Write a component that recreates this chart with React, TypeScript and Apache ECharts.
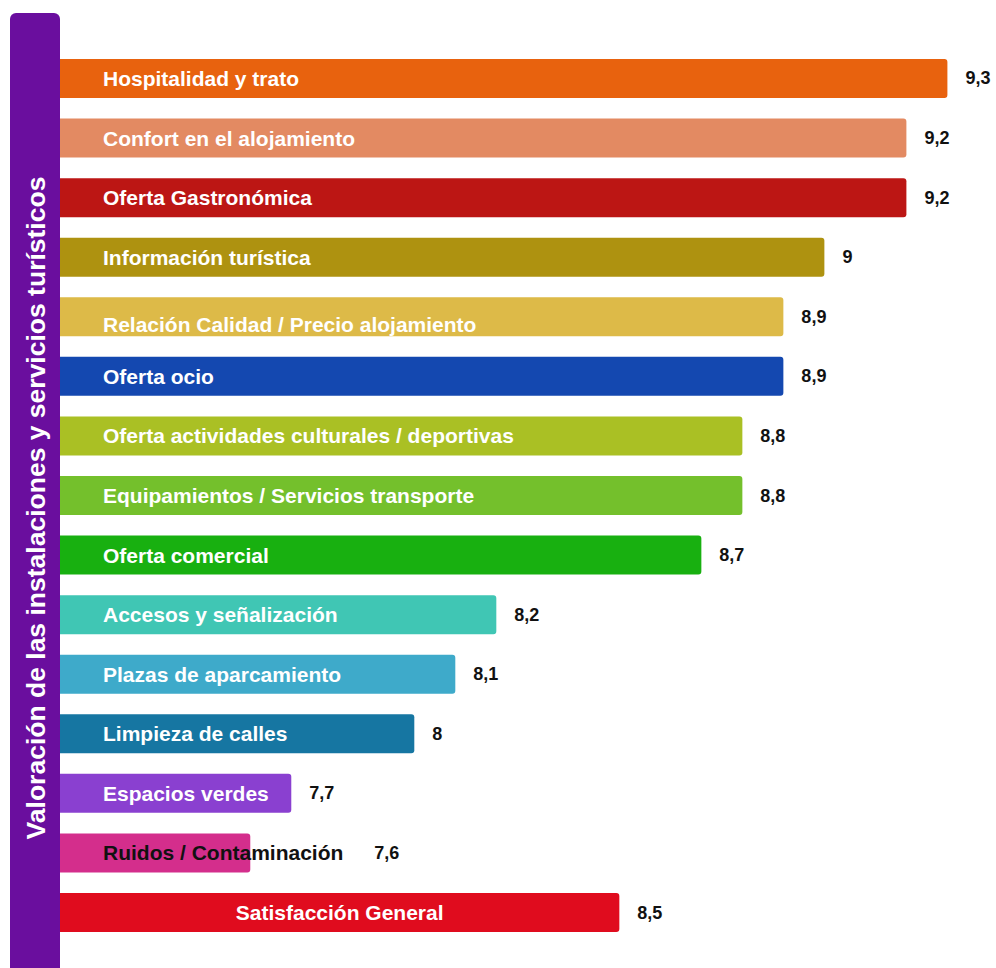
import React, { useEffect, useRef } from "react";
import * as echarts from "echarts";

const categories = [
  "Hospitalidad y trato",
  "Confort en el alojamiento",
  "Oferta Gastronómica",
  "Información turística",
  "Relación Calidad / Precio alojamiento",
  "Oferta ocio",
  "Oferta actividades culturales / deportivas",
  "Equipamientos / Servicios transporte",
  "Oferta comercial",
  "Accesos y señalización",
  "Plazas de aparcamiento",
  "Limpieza de calles",
  "Espacios verdes",
  "Ruidos / Contaminación",
  "Satisfacción General",
];

const values = [9.3, 9.2, 9.2, 9, 8.9, 8.9, 8.8, 8.8, 8.7, 8.2, 8.1, 8, 7.7, 7.6, 8.5];

const barColors = [
  "#E8620E",
  "#E38A62",
  "#BC1614",
  "#AE9210",
  "#DDBA48",
  "#1448B0",
  "#AAC024",
  "#74C02C",
  "#18B010",
  "#40C6B4",
  "#3EAACA",
  "#1676A2",
  "#8A40D0",
  "#D42E8C",
  "#E00C1E",
];

const titleText = "Valoración de las instalaciones y servicios turísticos";

const FONT = "'Liberation Sans', Arial, sans-serif";

export default function App() {
  const ref = useRef<HTMLDivElement>(null);

  useEffect(() => {
    if (!ref.current) return;
    const chart = echarts.init(ref.current, undefined, { renderer: "svg" });

    const nameData = values.map((v, i) => {
      const item: any = { value: v, itemStyle: { color: barColors[i] } };
      const name = categories[i];
      if (name === "Satisfacción General") {
        item.label = { position: "inside" };
      } else if (name === "Ruidos / Contaminación") {
        item.label = { color: "#111" };
      } else if (name === "Relación Calidad / Precio alojamiento") {
        item.label = { offset: [0, 8] };
      }
      return item;
    });

    const valueData = values.map((v, i) => {
      const item: any = { value: v };
      if (categories[i] === "Ruidos / Contaminación") {
        item.label = { distance: 124 };
      }
      return item;
    });

    chart.setOption({
      animation: false,
      backgroundColor: "#ffffff",
      grid: { left: 60, right: 48.6, top: 48.7, bottom: 25.7, containLabel: false },
      xAxis: {
        type: "value",
        min: 7.136,
        max: 9.3,
        show: false,
      },
      yAxis: {
        type: "category",
        inverse: true,
        data: categories,
        show: false,
      },
      graphic: [
        {
          type: "rect",
          left: 10,
          top: 13,
          shape: { width: 50, height: 960, r: [6, 6, 0, 0] },
          style: { fill: "#6A0E9E" },
          z: 0,
        },
        {
          type: "text",
          x: 36,
          y: 508,
          rotation: Math.PI / 2,
          style: {
            text: titleText,
            fill: "#ffffff",
            font: `bold 26.5px ${FONT}`,
            align: "center",
            verticalAlign: "middle",
            textAlign: "center",
            textVerticalAlign: "middle",
          },
          z: 1,
        },
      ],
      series: [
        {
          type: "bar",
          name: "nombres",
          data: nameData,
          barWidth: 39,
          barGap: "-100%",
          itemStyle: { borderRadius: [0, 3, 3, 0] },
          label: {
            show: true,
            position: "insideLeft",
            distance: 43,
            formatter: (p: any) => categories[p.dataIndex],
            color: "#ffffff",
            fontFamily: FONT,
            fontWeight: "bold",
            fontSize: 21,
          },
          silent: true,
          z: 2,
        },
        {
          type: "bar",
          name: "valores",
          data: valueData,
          barWidth: 39,
          barGap: "-100%",
          itemStyle: { color: "rgba(0,0,0,0)" },
          label: {
            show: true,
            position: "right",
            distance: 18,
            formatter: (p: any) => String(values[p.dataIndex]).replace(".", ","),
            color: "#111111",
            fontFamily: FONT,
            fontWeight: "bold",
            fontSize: 18,
          },
          silent: true,
          z: 3,
        },
      ],
    });

    return () => chart.dispose();
  }, []);

  return (
    <div
      ref={ref}
      style={{ position: "absolute", left: 0, top: 0, width: 996, height: 968 }}
    />
  );
}
